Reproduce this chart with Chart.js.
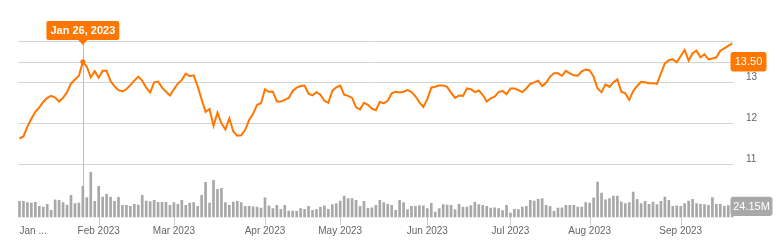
<!DOCTYPE html>
<html>
<head>
<meta charset="utf-8">
<script src="https://cdn.jsdelivr.net/npm/chart.js@4/dist/chart.umd.min.js"></script>
<style>
  html, body { margin: 0; padding: 0; background: #fff; }
</style>
</head>
<body>
<canvas id="chart" width="778" height="242"></canvas>
<script>
// trading days Jan 3 - Sep 21 2023 (weekends + market holidays skipped)
const holidays = ['2023-01-16', '2023-02-20', '2023-04-07', '2023-05-29', '2023-06-19', '2023-07-04', '2023-09-04'];
const dates = [];
for (let d = new Date(Date.UTC(2023, 0, 3)); d <= new Date(Date.UTC(2023, 8, 21)); d.setUTCDate(d.getUTCDate() + 1)) {
  const s = d.toISOString().slice(0, 10), wd = d.getUTCDay();
  if (wd > 0 && wd < 6 && !holidays.includes(s)) dates.push(s);
}

// closing price
const prices = [
  11.63, 11.68, 11.92, 12.11, 12.28, 12.39, 12.52, 12.62, 12.67, 12.63,
  12.53, 12.62, 12.76, 12.97, 13.07, 13.16, 13.50, 13.38, 13.12, 13.27,
  13.11, 13.28, 13.28, 13.03, 12.90, 12.81, 12.78, 12.83, 12.93, 13.04,
  13.14, 13.04, 12.87, 12.75, 13.00, 13.02, 12.87, 12.77, 12.68, 12.83,
  12.97, 13.06, 13.21, 13.15, 13.17, 12.90, 12.58, 12.28, 12.35, 11.94,
  12.26, 12.00, 11.85, 12.12, 11.80, 11.70, 11.71, 11.84, 12.08, 12.23,
  12.45, 12.49, 12.83, 12.77, 12.77, 12.53, 12.53, 12.57, 12.62, 12.79,
  12.87, 12.91, 12.92, 12.72, 12.68, 12.76, 12.70, 12.55, 12.50, 12.79,
  12.88, 12.92, 12.70, 12.67, 12.62, 12.39, 12.34, 12.50, 12.45, 12.36,
  12.32, 12.52, 12.49, 12.55, 12.73, 12.77, 12.75, 12.77, 12.81, 12.76,
  12.66, 12.51, 12.40, 12.59, 12.87, 12.89, 12.92, 12.92, 12.89, 12.75,
  12.62, 12.68, 12.67, 12.85, 12.83, 12.76, 12.80, 12.69, 12.53, 12.61,
  12.65, 12.76, 12.79, 12.71, 12.85, 12.85, 12.81, 12.76, 12.85, 12.96,
  13.00, 13.04, 12.91, 12.99, 13.14, 13.22, 13.22, 13.16, 13.28, 13.22,
  13.17, 13.16, 13.27, 13.31, 13.29, 13.14, 12.85, 12.76, 12.95, 12.89,
  13.00, 13.07, 12.77, 12.73, 12.57, 12.79, 12.91, 13.01, 13.00, 12.98,
  12.98, 12.96, 13.22, 13.46, 13.54, 13.56, 13.49, 13.64, 13.79, 13.53,
  13.71, 13.77, 13.61, 13.68, 13.56, 13.58, 13.61, 13.77, 13.83, 13.89, 13.95
];

// volume, millions
const volumes = [
  12.3, 12.3, 11.3, 11.0, 11.5, 8.4, 7.9, 10.0, 5.2, 13.6,
  13.1, 11.3, 9.4, 17.0, 10.5, 11.0, 24.15, 15.2, 35.1, 12.3,
  24.1, 15.7, 17.8, 15.7, 12.3, 15.5, 9.2, 9.2, 8.4, 10.0,
  9.4, 17.0, 12.6, 12.1, 13.1, 11.5, 11.5, 11.5, 9.2, 11.3,
  10.0, 13.1, 9.2, 11.0, 11.3, 8.4, 17.0, 27.3, 11.0, 28.9,
  21.8, 22.6, 11.3, 9.2, 11.8, 12.3, 11.3, 8.4, 8.4, 8.0,
  7.9, 7.1, 15.0, 8.7, 6.6, 9.2, 6.0, 9.2, 4.7, 4.7,
  4.5, 6.6, 6.0, 8.4, 5.2, 5.8, 7.9, 8.7, 6.0, 9.7,
  10.5, 12.6, 16.5, 14.4, 14.4, 13.1, 8.4, 12.3, 6.8, 7.3,
  9.2, 13.1, 11.3, 10.0, 9.2, 5.2, 13.1, 11.3, 5.8, 8.4,
  8.4, 8.9, 8.7, 6.6, 10.8, 3.9, 6.6, 9.7, 9.4, 9.2,
  5.8, 10.0, 7.9, 7.9, 8.9, 11.5, 9.7, 9.2, 8.4, 7.1,
  7.3, 6.6, 5.0, 9.2, 3.1, 6.0, 5.8, 7.9, 8.4, 13.1,
  12.6, 13.9, 14.4, 9.2, 8.4, 4.5, 7.1, 7.3, 9.2, 9.2,
  9.2, 7.9, 7.9, 11.3, 11.0, 15.0, 27.5, 18.9, 13.6, 14.4,
  16.5, 16.5, 11.8, 10.5, 11.3, 19.7, 13.9, 10.5, 12.3, 10.0,
  11.8, 9.7, 12.3, 15.7, 13.1, 8.4, 8.7, 8.4, 10.5, 12.6,
  13.9, 10.5, 10.0, 9.7, 9.2, 15.2, 10.0, 10.0, 8.4, 9.0, 9.5
];

const priceGrid = [11, 12, 13, 13.5, 14];
const priceLabels = [11, 12, 13];
const monthTicks = ['Jan ...', 'Feb 2023', 'Mar 2023', 'Apr 2023', 'May 2023', 'Jun 2023', 'Jul 2023', 'Aug 2023', 'Sep 2023'];
const monthNames = ['Jan', 'Feb', 'Mar', 'Apr', 'May', 'Jun', 'Jul', 'Aug', 'Sep', 'Oct', 'Nov', 'Dec'];
const hoverDate = '2023-01-26';

const orange = '#ff7700';
const font = 'Arial, "Liberation Sans", sans-serif';
const hoverIdx = dates.indexOf(hoverDate);

function rrect(ctx, x, y, w, h, r) {
  ctx.beginPath();
  ctx.moveTo(x + r, y);
  ctx.lineTo(x + w - r, y);
  ctx.quadraticCurveTo(x + w, y, x + w, y + r);
  ctx.lineTo(x + w, y + h - r);
  ctx.quadraticCurveTo(x + w, y + h, x + w - r, y + h);
  ctx.lineTo(x + r, y + h);
  ctx.quadraticCurveTo(x, y + h, x, y + h - r);
  ctx.lineTo(x, y + r);
  ctx.quadraticCurveTo(x, y, x + r, y);
  ctx.closePath();
}

const decor = {
  id: 'decor',
  beforeDatasetsDraw(chart) {
    const { ctx, chartArea: a, scales } = chart;
    ctx.save();
    ctx.lineWidth = 1;
    ctx.strokeStyle = '#d4d4d4';
    priceGrid.forEach(v => {
      const y = Math.round(scales.yP.getPixelForValue(v)) + 0.5;
      ctx.beginPath(); ctx.moveTo(a.left - 1.5, y); ctx.lineTo(a.right + 1, y); ctx.stroke();
    });
    // month tick marks
    ctx.strokeStyle = '#cccccc';
    monthTicks.forEach((t, m) => {
      if (m === 0) return;
      const idx = dates.findIndex(d => +d.slice(5, 7) === m + 1);
      const x = Math.round(scales.x.getPixelForValue(idx)) + 0.5;
      ctx.beginPath(); ctx.moveTo(x, a.bottom); ctx.lineTo(x, a.bottom + 8); ctx.stroke();
    });
    // crosshair
    const hx = Math.round(scales.x.getPixelForValue(hoverIdx)) + 0.5;
    ctx.strokeStyle = '#bdbdbd';
    ctx.beginPath(); ctx.moveTo(hx, 44); ctx.lineTo(hx, a.bottom); ctx.stroke();
    ctx.restore();
  },
  afterDatasetsDraw(chart) {
    const { ctx, chartArea: a, scales } = chart;
    ctx.save();
    ctx.font = '10px ' + font;
    ctx.fillStyle = '#666';
    ctx.textBaseline = 'middle';
    ctx.textAlign = 'left';
    priceLabels.forEach(v => {
      ctx.fillText(String(v), 746, scales.yP.getPixelForValue(v) - 5.5);
    });
    monthTicks.forEach((t, m) => {
      const idx = dates.findIndex(d => +d.slice(5, 7) === m + 1);
      const x = scales.x.getPixelForValue(idx);
      ctx.textAlign = m === 0 ? 'left' : 'center';
      ctx.fillText(t, m === 0 ? x : x, 231);
    });

    // tooltip
    const hx = scales.x.getPixelForValue(hoverIdx);
    const d = dates[hoverIdx];
    const label = monthNames[+d.slice(5, 7) - 1] + ' ' + (+d.slice(8)) + ', ' + d.slice(0, 4);
    ctx.font = 'bold 11px ' + font;
    const tw = ctx.measureText(label).width + 8;
    ctx.fillStyle = orange;
    rrect(ctx, hx - tw / 2, 21, tw, 19, 2);
    ctx.fill();
    ctx.beginPath(); ctx.moveTo(hx - 5, 39.5); ctx.lineTo(hx + 5, 39.5); ctx.lineTo(hx, 45); ctx.closePath(); ctx.fill();
    ctx.fillStyle = '#fff';
    ctx.textAlign = 'center';
    ctx.fillText(label, hx, 31);

    // price badge
    const py = scales.yP.getPixelForValue(prices[hoverIdx]);
    ctx.font = '11px ' + font;
    ctx.fillStyle = orange;
    rrect(ctx, 730.5, py - 9.7, 36, 19.4, 3);
    ctx.fill();
    ctx.fillStyle = '#fff';
    ctx.fillText(prices[hoverIdx].toFixed(2), 748.5, py + 0.5);

    // volume badge
    ctx.fillStyle = '#a9a9a9';
    rrect(ctx, 730.5, a.bottom - 20.3, 42, 19.4, 3);
    ctx.fill();
    ctx.fillStyle = '#fff';
    ctx.fillText(volumes[hoverIdx].toFixed(2) + 'M', 751.5, a.bottom - 10.1);
    ctx.restore();
  }
};

new Chart(document.getElementById('chart'), {
  data: {
    labels: dates,
    datasets: [
      {
        type: 'line',
        data: prices,
        yAxisID: 'yP',
        borderColor: orange,
        backgroundColor: orange,
        borderWidth: 2,
        tension: 0,
        pointRadius: c => c.dataIndex === hoverIdx ? 2.5 : 0,
        pointBorderWidth: 0,
        clip: 5
      },
      {
        type: 'bar',
        data: volumes,
        yAxisID: 'yV',
        backgroundColor: '#a8a8a8',
        barThickness: 2,
        clip: 5
      }
    ]
  },
  options: {
    responsive: false,
    devicePixelRatio: 1,
    animation: false,
    events: [],
    layout: { padding: { left: 19.5, right: 45.8, top: 20, bottom: 25 } },
    plugins: { legend: { display: false }, tooltip: { enabled: false } },
    scales: {
      x: { type: 'category', display: false, offset: false },
      yP: { type: 'linear', display: false, min: 9.715, max: 14.52 },
      yV: { type: 'linear', display: false, min: 0, max: 155 }
    }
  },
  plugins: [decor]
});
</script>
</body>
</html>
